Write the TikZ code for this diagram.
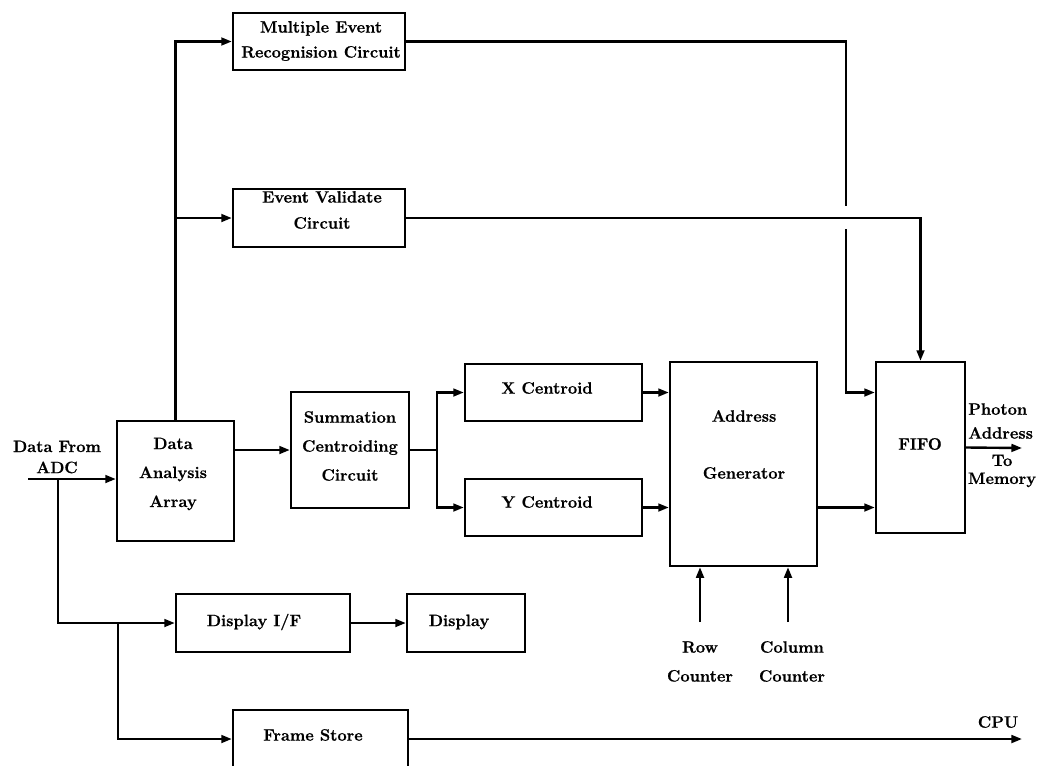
\documentclass[tikz,border=0pt]{standalone}
\usepackage{fontspec}
\setmainfont{Latin Modern Roman}[BoldFeatures={FakeBold=0.8}]
\usetikzlibrary{arrows.meta,fit}
\begin{document}
\begin{tikzpicture}[x=0.025cm, y=-0.025cm,
  box/.style={draw, line width=1.7pt, inner sep=0pt},
  lbl/.style={font=\fontsize{11.7}{#1}\selectfont\bfseries, align=center, inner sep=0pt},
  lbl/.default=20.6pt,
  wire/.style={line width=1.7pt},
  arr/.style={wire, -{Triangle[length=7.5pt,width=5.5pt]}}]
\useasboundingbox (0,0) rectangle (1037,765);

% blocks
\node[box, fit={(233,13) (405,70)}]   (merc) {};
\node[box, fit={(233,189) (405,247)}] (ev)   {};
\node[box, fit={(117,421) (234,541)}] (daa)  {};
\node[box, fit={(291,392) (409,508)}] (scc)  {};
\node[box, fit={(465,364) (642,421)}] (xc)   {};
\node[box, fit={(465,479) (642,536)}] (yc)   {};
\node[box, fit={(670,362) (817,566)}] (ag)   {};
\node[box, fit={(876,362) (965,533)}] (fifo) {};
\node[box, fit={(176,594) (350,652)}] (dif)  {};
\node[box, fit={(407,594) (525,652)}] (disp) {};
\node[box, fit={(233,710) (408,768)}] (fs)   {};

% block texts
\node[lbl=17.8pt] (merc-t) at (321,41)  {Multiple Event\\Recognision Circuit};
\node[lbl=18.5pt] (ev-t)   at (322,210) {Event Validate\\Circuit};
\node[lbl]        (daa-t)  at (173,474) {Data\\Analysis\\Array};
\node[lbl]        (scc-t)  at (350,446) {Summation\\Centroiding\\Circuit};
\node[lbl]        (xc-t)   at (547,388) {X Centroid};
\node[lbl]        (yc-t)   at (547,502) {Y Centroid};
\node[lbl=40.5pt] (ag-t)   at (744,444.5) {Address\\Generator};
\node[lbl]        (fifo-t) at (920,444) {FIFO};
\node[lbl]        (dif-t)  at (254,622) {Display I/F};
\node[lbl]        (disp-t) at (459,622) {Display};
\node[lbl]        (fs-t)   at (313,735) {Frame Store};

% free labels
\node[lbl=15pt]   (adc-t)  at (57,457)   {Data From\\ADC};
\node[lbl]        (cpu-t)  at (998,722)  {CPU};
\node[lbl]        (row-t)  at (700,661.5) {Row\\Counter};
\node[lbl]        (col-t)  at (792,661.5) {Column\\Counter};
\node[lbl=17pt, align=left, anchor=west] (pa-t) at (968,421) {Photon\\Address};
\node[lbl=12.8pt] (tm-t)   at (1002,471) {To\\Memory};

% connection end points
\coordinate (in)    at (28,479);
\coordinate (b1)    at (58,479);
\coordinate (b2)    at (118,623);
\coordinate (split) at (437,450);
\coordinate (gapA)  at (846,206);
\coordinate (gapB)  at (846,229);
\coordinate (mem)   at (1022,448);
\coordinate (cpu)   at (1022,739);
\coordinate (rowc)  at (700,622);
\coordinate (colc)  at (788,622);

% input side
\draw[arr] (in) -- (in -| daa.west);
\draw[arr] (b1) |- (dif.west);
\draw[arr] (b2) |- (fs.west);
\draw[arr] (dif.east) -- (disp.west);
\draw[arr] (fs.east) -- (cpu);

% event circuits
\draw[arr] (daa.north) |- (merc.west);
\draw[arr] (daa.north |- ev.west) -- (ev.west);

% centroiding chain
\draw[arr] (daa.east |- scc.west) -- (scc.west);
\draw[wire] (scc.east) -- (split);
\draw[arr] (split) |- (xc.west);
\draw[arr] (split) |- (yc.west);
\draw[arr] (xc.east) -- (xc.east -| ag.west);
\draw[arr] (yc.east) -- (yc.east -| ag.west);
\draw[arr] (ag.east |- yc.east) -- (yc.east -| fifo.west);

% into the FIFO (vertical line broken where it crosses)
\draw[wire] (merc.east) -| (gapA);
\draw[arr] (gapB) |- (xc.east -| fifo.west);
\draw[arr] (ev.east) -| (fifo.north);
\draw[arr] (fifo.east) -- (mem);

% counters
\draw[arr] (rowc) -- (rowc |- ag.south);
\draw[arr] (colc) -- (colc |- ag.south);
\end{tikzpicture}
\end{document}
